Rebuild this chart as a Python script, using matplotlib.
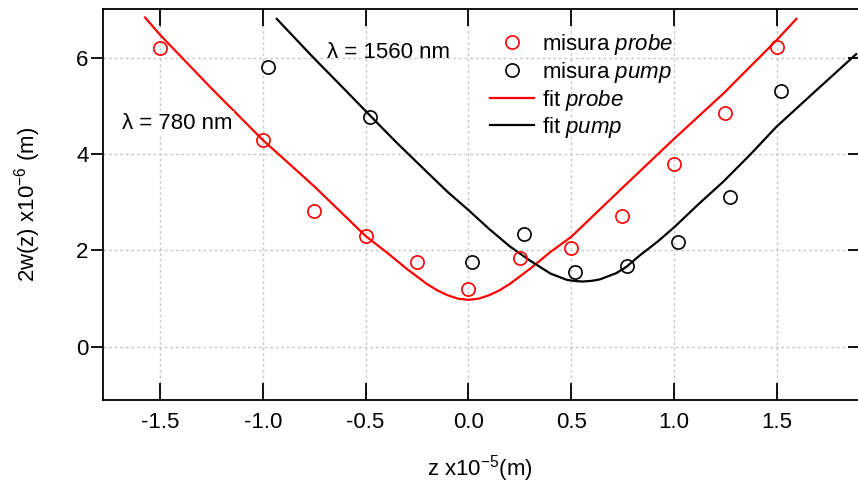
import numpy as np
import matplotlib
matplotlib.use('Agg')
import matplotlib.pyplot as plt

# measured beam widths (z in 1e-5 m, 2w in 1e-6 m)
z_probe = [-1.5, -1.0, -0.75, -0.5, -0.25, 0.0, 0.25, 0.5, 0.75, 1.0, 1.25, 1.5]
w_probe = [6.20, 4.28, 2.82, 2.30, 1.77, 1.20, 1.84, 2.06, 2.72, 3.80, 4.84, 6.21]

z_pump = [-0.976, -0.479, 0.020, 0.271, 0.518, 0.772, 1.02, 1.271, 1.519]
w_pump = [5.81, 4.77, 1.76, 2.35, 1.55, 1.68, 2.17, 3.10, 5.31]

# fit curves
zfit_probe = [-1.573, -1.5, -1.25, -1.0, -0.75, -0.5, -0.4, -0.3, -0.2, -0.15, -0.1,
              -0.05, 0.0, 0.05, 0.1, 0.15, 0.2, 0.3, 0.4, 0.5, 0.75, 1.0, 1.24, 1.5, 1.596]
wfit_probe = [6.83, 6.47, 5.36, 4.29, 3.33, 2.30, 1.97, 1.62, 1.30, 1.17, 1.07,
              1.00, 0.976, 1.00, 1.07, 1.17, 1.30, 1.62, 1.97, 2.28, 3.30, 4.31, 5.25, 6.36, 6.80]

zfit_pump = [-0.932, -0.75, -0.6, -0.479, -0.35, -0.2, -0.1, 0.0, 0.1, 0.2, 0.3,
             0.4, 0.48, 0.52, 0.558, 0.6, 0.64, 0.72, 0.769, 0.835, 0.92, 1.004, 1.12,
             1.239, 1.37, 1.498, 1.693, 1.887]
wfit_pump = [6.80, 5.98, 5.33, 4.80, 4.24, 3.62, 3.21, 2.84, 2.45, 2.09, 1.79,
             1.52, 1.39, 1.365, 1.356, 1.37, 1.40, 1.53, 1.66, 1.90, 2.18, 2.49, 2.96,
             3.42, 3.98, 4.56, 5.32, 6.07]

xticks = [-1.5, -1.0, -0.5, 0.0, 0.5, 1.0, 1.5]
xticklabels = ['-1.5', '-1.0', '-0.5', '0.0', '0.5', '1.0', '1.5']
yticks = [0, 2, 4, 6]


def make_plot():
    plt.rcParams['font.family'] = ['Liberation Sans', 'DejaVu Sans']
    plt.rcParams['mathtext.fontset'] = 'custom'
    plt.rcParams['mathtext.rm'] = 'Liberation Sans'
    plt.rcParams['mathtext.it'] = 'Liberation Sans:italic'
    plt.rcParams['axes.unicode_minus'] = False
    fs = 16

    fig = plt.figure(figsize=(8.58, 4.84), dpi=100)
    ax = fig.add_axes([0.1195, 0.1736, 0.8805, 0.8072])

    ax.plot(zfit_probe, wfit_probe, color='#ff0000', lw=1.6, zorder=3, label=r'fit $\it{probe}$')
    ax.plot(zfit_pump, wfit_pump, color='black', lw=1.6, zorder=3, label=r'fit $\it{pump}$')
    ax.plot(z_probe, w_probe, 'o', mfc='none', mec='#ff0000', ms=9.5, mew=1.2, zorder=4,
            label=r'misura $\it{probe}$')
    ax.plot(z_pump, w_pump, 'o', mfc='none', mec='black', ms=9.5, mew=1.2, zorder=4,
            label=r'misura $\it{pump}$')

    ax.set_xlim(-1.78, 1.896)
    ax.set_ylim(-1.1, 7.0)
    ax.set_xticks(xticks)
    ax.set_xticklabels(xticklabels)
    ax.set_yticks(yticks)
    ax.grid(True, color='#c8c8c8', linestyle=(0, (2, 2)), lw=1)
    ax.set_axisbelow(True)

    for s in ax.spines.values():
        s.set_linewidth(1.3)
    ax.spines['right'].set_visible(False)

    ax.tick_params(axis='x', which='both', direction='in', top=True, length=12, width=1.3,
                   labelsize=fs, pad=9)
    ax.tick_params(axis='y', which='both', direction='out', length=8.5, width=1.3,
                   labelsize=fs, pad=1.5)
    ax.tick_params(axis='y', which='both', right=True)
    for t in ax.yaxis.get_major_ticks():
        t.tick2line.set_marker(0)  # right ticks point inward
        t.tick2line.set_markersize(7.2)

    ax.set_xlabel(r'z x10$^{-5}$(m)', fontsize=fs, labelpad=14)
    ax.set_ylabel(r'2w(z) x10$^{-6}$ (m)', fontsize=fs, labelpad=24)

    ax.text(-0.689, 6.10, '\u03bb = 1560 nm', fontsize=fs, va='center', ha='left', zorder=2)
    ax.text(-1.686, 4.64, '\u03bb = 780 nm', fontsize=fs, va='center', ha='left', zorder=5,
            bbox=dict(fc='white', ec='none', pad=1.5))

    h, l = ax.get_legend_handles_labels()
    order = [2, 3, 0, 1]
    ax.legend([h[i] for i in order], [l[i] for i in order], loc='upper left',
              bbox_to_anchor=(0.4926, 0.981), frameon=False, fontsize=fs,
              handlelength=1.95, handletextpad=0.4, labelspacing=0.12, borderpad=0.2)

    fig.savefig('out.png', dpi=100)


make_plot()
